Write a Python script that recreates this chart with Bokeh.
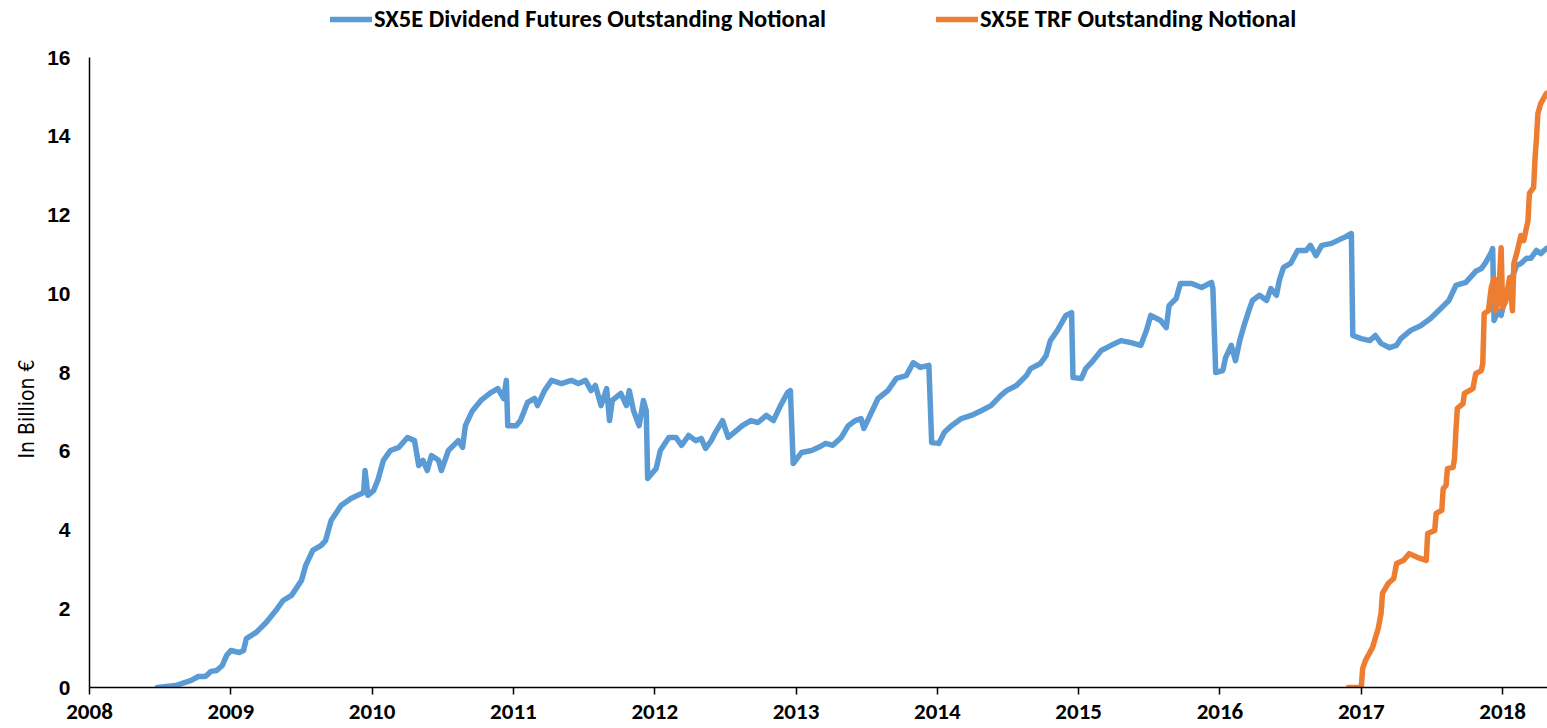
from bokeh.plotting import figure
from bokeh.models import Legend, LegendItem, Title, FixedTicker, Range1d
from bokeh.embed import file_html
from bokeh.resources import INLINE

# ---- data (decimal years, billion EUR) ----
div_years = [2008.48, 2008.61, 2008.72, 2008.77, 2008.82, 2008.86, 2008.90, 2008.94, 2008.97, 2009.00,
             2009.06, 2009.09, 2009.11, 2009.18, 2009.25, 2009.32, 2009.37, 2009.43, 2009.50, 2009.53,
             2009.58, 2009.64, 2009.67, 2009.71, 2009.78, 2009.85, 2009.94, 2009.95, 2009.97, 2010.01,
             2010.04, 2010.08, 2010.13, 2010.19, 2010.25, 2010.30, 2010.33, 2010.36, 2010.39, 2010.42,
             2010.47, 2010.49, 2010.54, 2010.61, 2010.64, 2010.66, 2010.71, 2010.77, 2010.84, 2010.89,
             2010.93, 2010.95, 2010.96, 2011.02, 2011.05, 2011.10, 2011.15, 2011.17, 2011.22, 2011.27,
             2011.34, 2011.41, 2011.46, 2011.51, 2011.55, 2011.58, 2011.62, 2011.66, 2011.68, 2011.70,
             2011.76, 2011.80, 2011.82, 2011.85, 2011.89, 2011.92, 2011.94, 2011.95, 2012.01, 2012.04,
             2012.10, 2012.15, 2012.19, 2012.24, 2012.29, 2012.33, 2012.36, 2012.40, 2012.43, 2012.48,
             2012.52, 2012.58, 2012.62, 2012.68, 2012.73, 2012.79, 2012.84, 2012.89, 2012.94, 2012.96,
             2012.98, 2013.04, 2013.11, 2013.16, 2013.21, 2013.26, 2013.32, 2013.37, 2013.42, 2013.46,
             2013.48, 2013.53, 2013.58, 2013.65, 2013.71, 2013.78, 2013.83, 2013.88, 2013.94, 2013.96,
             2014.01, 2014.05, 2014.10, 2014.17, 2014.24, 2014.31, 2014.38, 2014.45, 2014.49, 2014.56,
             2014.63, 2014.66, 2014.73, 2014.77, 2014.80, 2014.85, 2014.91, 2014.95, 2014.96, 2015.02,
             2015.05, 2015.09, 2015.16, 2015.23, 2015.30, 2015.37, 2015.44, 2015.48, 2015.51, 2015.58,
             2015.62, 2015.64, 2015.69, 2015.72, 2015.80, 2015.87, 2015.94, 2015.95, 2015.97, 2016.02,
             2016.04, 2016.08, 2016.11, 2016.14, 2016.17, 2016.21, 2016.23, 2016.28, 2016.33, 2016.36,
             2016.40, 2016.42, 2016.45, 2016.50, 2016.55, 2016.61, 2016.64, 2016.68, 2016.72, 2016.79,
             2016.86, 2016.89, 2016.93, 2016.94, 2017.00, 2017.06, 2017.10, 2017.14, 2017.20, 2017.25,
             2017.28, 2017.35, 2017.42, 2017.49, 2017.57, 2017.62, 2017.67, 2017.74, 2017.81, 2017.85,
             2017.88, 2017.92, 2017.93, 2017.94, 2017.97, 2017.99, 2018.02, 2018.06, 2018.10, 2018.13,
             2018.17, 2018.20, 2018.24, 2018.27, 2018.31]
div_values = [0.00, 0.05, 0.18, 0.28, 0.28, 0.41, 0.43, 0.56, 0.81, 0.94,
              0.89, 0.94, 1.24, 1.40, 1.65, 1.96, 2.21, 2.34, 2.72, 3.10,
              3.48, 3.61, 3.73, 4.24, 4.62, 4.80, 4.95, 5.51, 4.88, 5.00,
              5.26, 5.77, 6.02, 6.10, 6.35, 6.27, 5.64, 5.77, 5.51, 5.89,
              5.77, 5.51, 6.02, 6.27, 6.10, 6.65, 7.03, 7.29, 7.49, 7.59,
              7.34, 7.80, 6.65, 6.65, 6.78, 7.24, 7.34, 7.16, 7.54, 7.80,
              7.72, 7.80, 7.72, 7.80, 7.54, 7.67, 7.16, 7.59, 6.78, 7.29,
              7.47, 7.16, 7.54, 7.03, 6.65, 7.29, 7.03, 5.31, 5.56, 6.02,
              6.35, 6.35, 6.15, 6.40, 6.27, 6.32, 6.07, 6.27, 6.48, 6.78,
              6.35, 6.53, 6.65, 6.78, 6.73, 6.91, 6.78, 7.16, 7.49, 7.54,
              5.69, 5.97, 6.02, 6.10, 6.20, 6.15, 6.35, 6.65, 6.78, 6.83,
              6.58, 6.96, 7.34, 7.54, 7.85, 7.92, 8.25, 8.13, 8.18, 6.22,
              6.20, 6.48, 6.65, 6.83, 6.91, 7.03, 7.16, 7.42, 7.54, 7.67,
              7.92, 8.10, 8.23, 8.43, 8.81, 9.07, 9.45, 9.52, 7.87, 7.85,
              8.10, 8.25, 8.56, 8.69, 8.81, 8.76, 8.69, 9.07, 9.45, 9.32,
              9.14, 9.70, 9.88, 10.26, 10.26, 10.16, 10.29, 10.13, 8.00, 8.05,
              8.38, 8.69, 8.30, 8.81, 9.19, 9.63, 9.83, 9.96, 9.83, 10.13,
              9.96, 10.34, 10.67, 10.77, 11.10, 11.10, 11.23, 10.97, 11.23, 11.28,
              11.40, 11.45, 11.53, 8.94, 8.86, 8.81, 8.94, 8.74, 8.63, 8.69,
              8.86, 9.07, 9.19, 9.37, 9.65, 9.83, 10.21, 10.29, 10.57, 10.64,
              10.79, 11.05, 11.15, 9.32, 9.57, 9.45, 9.96, 10.34, 10.72, 10.77,
              10.90, 10.90, 11.10, 11.02, 11.15]

trf_years = [2016.91, 2017.00, 2017.01, 2017.03, 2017.08, 2017.12, 2017.14, 2017.15, 2017.19, 2017.23,
             2017.25, 2017.30, 2017.34, 2017.40, 2017.46, 2017.47, 2017.52, 2017.53, 2017.57, 2017.58,
             2017.60, 2017.61, 2017.65, 2017.66, 2017.67, 2017.68, 2017.72, 2017.73, 2017.79, 2017.81,
             2017.85, 2017.86, 2017.87, 2017.90, 2017.92, 2017.94, 2017.95, 2017.97, 2017.99, 2018.00,
             2018.02, 2018.05, 2018.07, 2018.08, 2018.10, 2018.13, 2018.15, 2018.18, 2018.19, 2018.22,
             2018.23, 2018.24, 2018.25, 2018.27, 2018.29, 2018.31]
trf_values = [0.00, 0.00, 0.48, 0.69, 1.02, 1.50, 1.88, 2.39, 2.64, 2.77,
              3.15, 3.23, 3.40, 3.30, 3.23, 3.91, 3.99, 4.42, 4.50, 5.05,
              5.13, 5.56, 5.59, 5.82, 6.53, 7.09, 7.21, 7.47, 7.59, 7.97,
              8.05, 8.23, 9.50, 9.57, 10.16, 10.39, 9.57, 9.83, 11.17, 9.65,
              9.78, 10.41, 9.57, 10.77, 11.02, 11.48, 11.35, 11.86, 12.55, 12.70,
              13.46, 13.94, 14.58, 14.83, 14.96, 15.09]

year_ticks = list(range(2008, 2019))
value_ticks = [0, 2, 4, 6, 8, 10, 12, 14, 16]

series_names = ["SX5E Dividend Futures Outstanding Notional", "SX5E TRF Outstanding Notional"]
y_title = "In Billion €"
BLUE = "#5B9BD5"
ORANGE = "#ED7D31"

NARROW = "Carlito, 'Liberation Sans Narrow', 'DejaVu Sans Condensed', sans-serif"

# frame reaches the top of the figure so the legend can sit inside it;
# the y axis line is bounded to 0..16 as in the reference
p = figure(width=1547, height=728, output_backend="svg", toolbar_location=None,
           x_range=Range1d(2008, 2018.318), y_range=Range1d(0, 17.448),
           min_border_left=89, min_border_right=0, min_border_top=0, min_border_bottom=41)
p.outline_line_color = None
p.background_fill_color = "white"
p.border_fill_color = "white"
p.xgrid.visible = False
p.ygrid.visible = False

r1 = p.line(div_years, div_values, line_color=BLUE, line_width=5.5, line_join="round", line_cap="round")
r2 = p.line(trf_years, trf_values, line_color=ORANGE, line_width=5.5, line_join="round", line_cap="round")

# x axis
p.xaxis.ticker = FixedTicker(ticks=year_ticks)
p.xaxis.minor_tick_line_color = None
p.xaxis.major_tick_in = 0
p.xaxis.major_tick_out = 7
p.xaxis.major_tick_line_color = "black"
p.xaxis.major_tick_line_width = 1.5
p.xaxis.axis_line_color = "black"
p.xaxis.axis_line_width = 1.5
p.xaxis.major_label_text_font = NARROW
p.xaxis.major_label_text_font_style = "bold"
p.xaxis.major_label_text_font_size = "23px"
p.xaxis.major_label_text_color = "black"
p.xaxis.major_label_standoff = 10

# y axis
p.yaxis.ticker = FixedTicker(ticks=value_ticks)
p.yaxis.bounds = (0, 16)
p.yaxis.minor_tick_line_color = None
p.yaxis.major_tick_in = 0
p.yaxis.major_tick_out = 0
p.yaxis.axis_line_color = "black"
p.yaxis.axis_line_width = 1.5
p.yaxis.major_label_text_font = "'Liberation Sans', Arial, sans-serif"
p.yaxis.major_label_text_font_style = "bold"
p.yaxis.major_label_text_font_size = "21px"
p.yaxis.major_label_text_color = "black"
p.yaxis.major_label_standoff = 19

ytitle = Title(text=y_title, align="left", offset=229,
               text_font="'Liberation Sans Narrow', 'DejaVu Sans Condensed', sans-serif",
               text_font_size="21px", text_font_style="normal", text_color="black",
               standoff=12)
p.add_layout(ytitle, "left")

legend = Legend(items=[LegendItem(label=series_names[0], renderers=[r1]),
                       LegendItem(label=series_names[1], renderers=[r2])],
                orientation="horizontal", location=(241, 653),
                label_text_font=NARROW, label_text_font_style="bold",
                label_text_font_size="24.5px", label_text_color="black",
                glyph_width=42, glyph_height=20, label_standoff=2, spacing=110,
                padding=0, margin=0, border_line_color=None, background_fill_alpha=0)
p.add_layout(legend, "center")

open("out.html", "w").write(file_html(p, INLINE))
